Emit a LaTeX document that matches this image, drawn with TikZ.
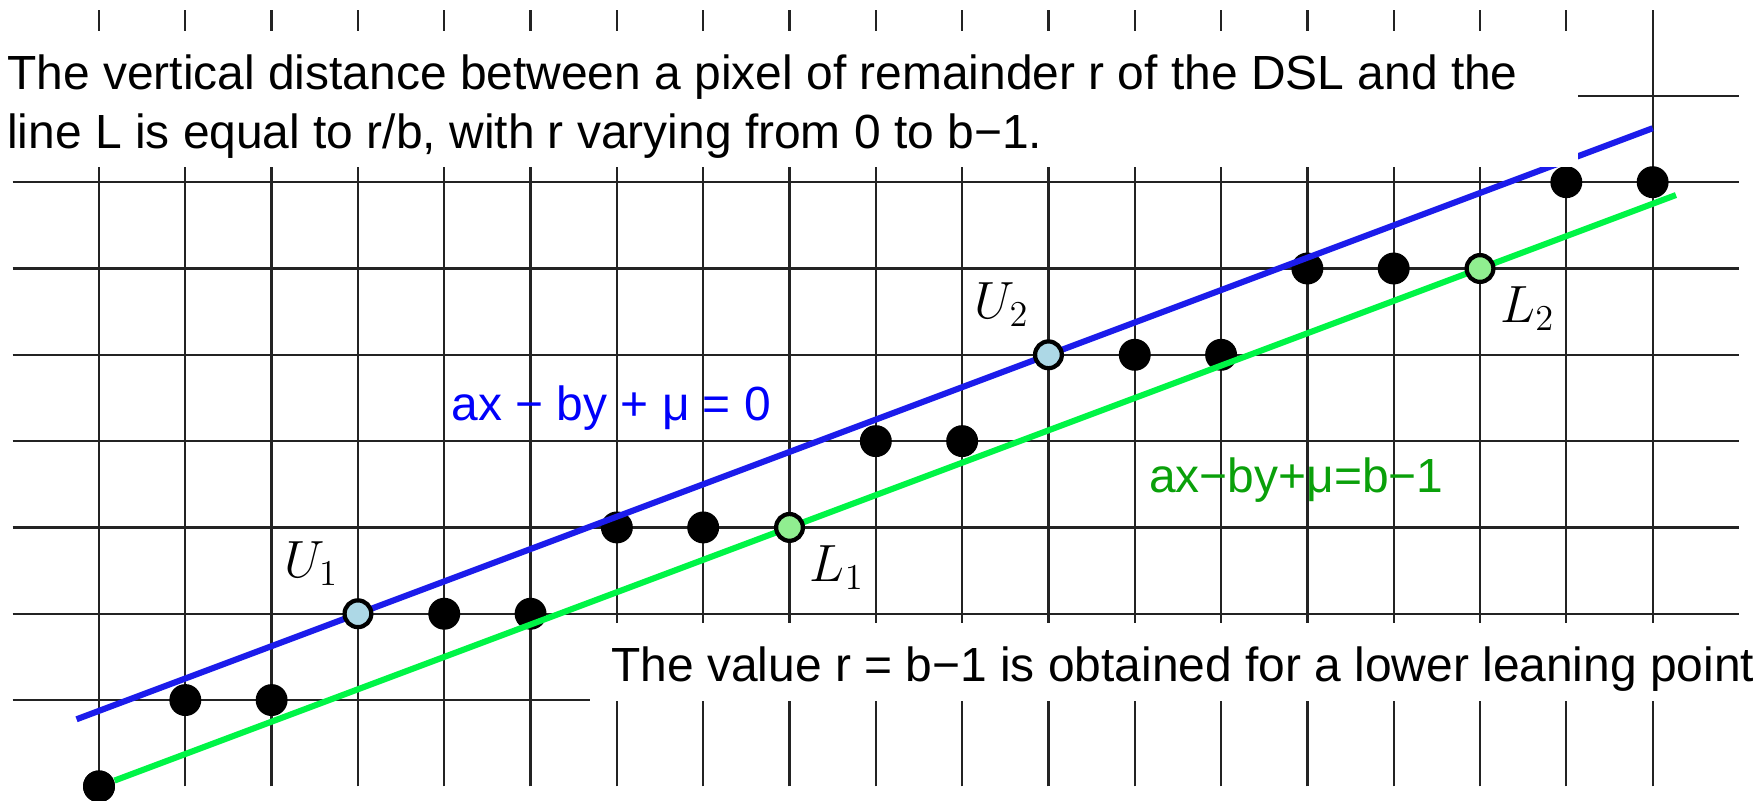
\documentclass[tikz,border=0pt]{standalone}
\usepackage{fontspec}
\setmainfont{Liberation Sans}
\usetikzlibrary{positioning}
\definecolor{dslblue}{RGB}{28,28,235}
\definecolor{eqblue}{RGB}{0,0,250}
\definecolor{dslgreen}{RGB}{0,245,70}
\definecolor{eqgreen}{RGB}{10,160,10}
\definecolor{upfill}{RGB}{173,216,230}
\definecolor{lowfill}{RGB}{144,238,144}
\definecolor{gridgray}{RGB}{35,35,35}

\begin{document}
\begin{tikzpicture}[
    gridline/.style={gridgray, line width=0.75pt},
    pix/.style={circle, fill=black, minimum size=0.37cm, inner sep=0pt},
    lean/.style={circle, draw=black, line width=1.4pt, minimum size=0.31cm, inner sep=0pt},
    note/.style={inner sep=0pt, font=\fontsize{15.8}{19}\selectfont},
    ptlabel/.style={inner sep=0pt, font=\fontsize{17.2}{20}\selectfont}
]
    \useasboundingbox (-1.147,-0.169) rectangle (19.29,9.111);
    % grid
    \foreach \x in {0,...,18}{\draw[gridline] (\x,0) -- (\x,9);}
    \foreach \y in {1,...,8}{\draw[gridline] (-1,\y) -- (19,\y);}
    % pixels of the DSL
    \foreach \x/\y [count=\i] in {0/0,1/1,2/1,4/2,5/2,6/3,7/3,9/4,10/4,12/5,13/5,14/6,15/6,17/7,18/7}{\node[pix] (p\i) at (\x,\y) {};}
    % leaning lines
    \coordinate (bstart) at (-0.26,0.7775);
    \coordinate (bend) at (18,7.625);
    \coordinate (gend) at (18.27,6.851);
    \draw[dslblue, line width=2pt] (bstart) -- (bend);
    \draw[dslgreen, line width=2pt] (p1) -- (gend);
    \node[pix] at (0,0) {};
    % leaning points
    \node[lean, fill=upfill] (U1) at (3,2) {};
    \node[lean, fill=upfill] (U2) at (11,5) {};
    \node[lean, fill=lowfill] (L1) at (8,3) {};
    \node[lean, fill=lowfill] (L2) at (16,6) {};
    \node[ptlabel, anchor=base east] (U1name) at (2.78,2.42) {$U_1$};
    \node[ptlabel, anchor=base east] (U2name) at (10.78,5.42) {$U_2$};
    \node[ptlabel, anchor=base west] (L1name) at (8.23,2.372) {$L_1$};
    \node[ptlabel, anchor=base west] (L2name) at (16.23,5.372) {$L_2$};
    % equations
    \node[note, anchor=base west, text=eqblue] (upeq) at (4.078,4.24) {ax − by + μ = 0};
    \node[note, anchor=base west, text=eqgreen] (loweq) at (12.16,3.405) {ax−by+μ=b−1};
    % text boxes
    \fill[white] (-1.2,7.18) rectangle (17.14,8.75);
    \fill[white] (5.69,0.985) rectangle (19.4,1.888);
    \node[note, anchor=base west] (dist1) at (-1.07,8.068) {The vertical distance between a pixel of remainder r of the DSL and the};
    \node[note, anchor=base west] (dist2) at (-1.07,7.392) {line L is equal to r/b, with r varying from 0 to b−1.};
    \node[note, anchor=base west] (lowval) at (5.928,1.212) {The value r = b−1 is obtained for a lower leaning point};
\end{tikzpicture}
\end{document}
